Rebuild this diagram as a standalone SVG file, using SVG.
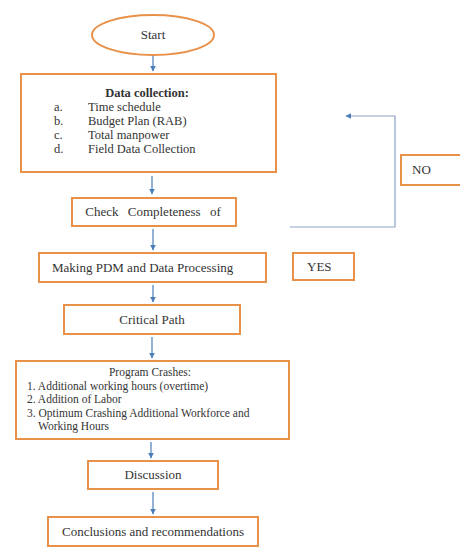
<svg xmlns="http://www.w3.org/2000/svg" width="460" height="548" viewBox="0 0 460 548">
<defs>
<style>
.box{fill:#fff;stroke:#E8914A;stroke-width:2}
.t{font-family:"Liberation Serif","Times New Roman",serif;font-size:13px;fill:#333}
.d{font-family:"Liberation Serif","Times New Roman",serif;font-size:12.5px;fill:#333}
.s{font-family:"Liberation Serif","Times New Roman",serif;font-size:11.5px;fill:#333}
.c{text-anchor:middle}
.b{font-weight:bold}
.ar{stroke:#4A7EBB;stroke-width:1.2;fill:none;marker-end:url(#ah)}
.fb{stroke:#8DA4C6;stroke-width:1.2;fill:none;marker-end:url(#ah)}
</style>
<marker id="ah" viewBox="0 0 10 10" refX="9" refY="5" markerWidth="6" markerHeight="6" markerUnits="userSpaceOnUse" orient="auto">
<path d="M0,0 L10,5 L0,10 z" fill="#4A7EBB"/>
</marker>
</defs>
<rect width="460" height="548" fill="#fff"/>
<g id="connectors">
<line class="ar" x1="153" y1="56" x2="153" y2="71"/>
<line class="ar" x1="152" y1="176" x2="152" y2="194"/>
<line class="ar" x1="153" y1="229" x2="153" y2="250"/>
<line class="ar" x1="153" y1="285" x2="153" y2="302"/>
<line class="ar" x1="152" y1="337" x2="152" y2="358"/>
<line class="ar" x1="151" y1="442" x2="151" y2="458"/>
<line class="ar" x1="153" y1="492" x2="153" y2="514"/>
<polyline class="fb" points="290,227 395,227 395,116 346,116"/>
</g>
<g id="start">
<ellipse cx="153" cy="35" rx="61" ry="20" fill="#fff" stroke="#E8914A" stroke-width="2"/>
<text class="t c" x="153" y="39">Start</text>
</g>
<g id="data-collection">
<rect class="box" x="21" y="74" width="255" height="98"/>
<text class="d c b" x="147" y="97">Data collection:</text>
<text class="d" x="54" y="111">a.</text><text class="d" x="88" y="111">Time schedule</text>
<text class="d" x="54" y="125">b.</text><text class="d" x="88" y="125">Budget Plan (RAB)</text>
<text class="d" x="54" y="139">c.</text><text class="d" x="88" y="139">Total manpower</text>
<text class="d" x="54" y="153">d.</text><text class="d" x="88" y="153">Field Data Collection</text>
</g>
<g id="no">
<rect class="box" x="401" y="155" width="70" height="30"/>
<text class="t" x="412" y="174">NO</text>
</g>
<g id="check">
<rect class="box" x="72" y="198" width="164" height="28"/>
<text class="t c" x="153" y="216" word-spacing="6">Check Completeness of</text>
</g>
<g id="pdm">
<rect class="box" x="39" y="253" width="227" height="29"/>
<text class="t" x="52" y="272">Making PDM and Data Processing</text>
</g>
<g id="yes">
<rect class="box" x="293" y="253" width="61" height="27"/>
<text class="t" x="307" y="271">YES</text>
</g>
<g id="critical-path">
<rect class="box" x="64" y="305" width="176" height="29"/>
<text class="t c" x="152" y="324" font-size="14">Critical Path</text>
</g>
<g id="program-crashes">
<rect class="box" x="16" y="361" width="273" height="78"/>
<text class="s c" x="150" y="376">Program Crashes:</text>
<text class="s" x="27" y="389.5">1. Additional working hours (overtime)</text>
<text class="s" x="27" y="403">2. Addition of Labor</text>
<text class="s" x="27" y="416.5">3. Optimum Crashing Additional Workforce and</text>
<text class="s" x="38" y="430">Working Hours</text>
</g>
<g id="discussion">
<rect class="box" x="88" y="461" width="130" height="28"/>
<text class="t c" x="153" y="479">Discussion</text>
</g>
<g id="conclusions">
<rect class="box" x="48" y="517" width="210" height="29"/>
<text class="t c" x="153" y="536">Conclusions and recommendations</text>
</g>
</svg>
